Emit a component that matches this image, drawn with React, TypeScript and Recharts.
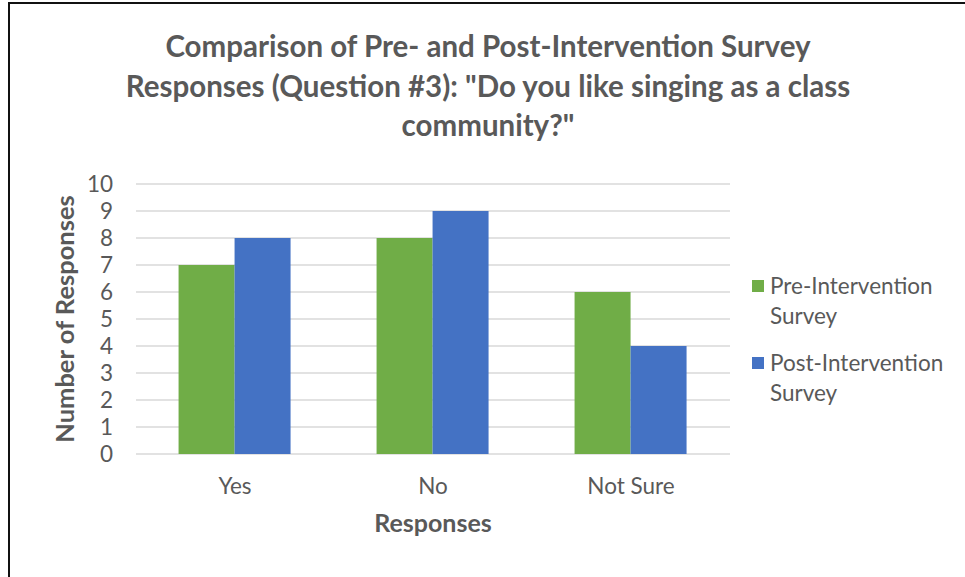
import { BarChart, Bar, XAxis, YAxis, CartesianGrid, Label } from "recharts"

const responses = ["Yes", "No", "Not Sure"]
const preSurvey = [7, 8, 6]
const postSurvey = [8, 9, 4]
const yTicks = [0, 1, 2, 3, 4, 5, 6, 7, 8, 9, 10]

const data = responses.map((name, i) => ({
  name,
  pre: preSurvey[i],
  post: postSurvey[i],
}))

const FONT = "Lato, 'Noto Sans', sans-serif"
const TEXT = "#595959"
const GREEN = "#70AD47"
const BLUE = "#4472C4"

const legendItems = [
  { color: GREEN, lines: ["Pre-Intervention", "Survey"] },
  { color: BLUE, lines: ["Post-Intervention", "Survey"] },
]

// legend sits to the right of the plot, entries wrap onto two lines
function LegendBox() {
  return (
    <div
      style={{
        position: "absolute",
        left: 752,
        top: 271,
        fontFamily: FONT,
        fontSize: 22.5,
        color: TEXT,
        lineHeight: "30px",
      }}
    >
      {legendItems.map((item, i) => (
        <div key={i} style={{ display: "flex", marginBottom: i === 0 ? 17 : 0 }}>
          <div
            style={{
              width: 12,
              height: 12,
              background: item.color,
              marginTop: 9,
              marginRight: 6,
            }}
          />
          <div>
            {item.lines.map((l) => (
              <div key={l}>{l}</div>
            ))}
          </div>
        </div>
      ))}
    </div>
  )
}

export default function App() {
  return (
    <div style={{ position: "absolute", left: 0, top: 0, width: 965, height: 577, background: "#fff" }}>
      <div
        style={{
          position: "absolute",
          left: 8,
          top: 2,
          width: 957,
          height: 575,
          borderTop: "2px solid #111",
          borderLeft: "2px solid #111",
        }}
      />
      <div
        style={{
          position: "absolute",
          left: 38,
          top: 26,
          width: 900,
          textAlign: "center",
          fontFamily: FONT,
          fontWeight: 700,
          fontSize: 29.5,
          lineHeight: "39.5px",
          color: TEXT,
        }}
      >
        <div>Comparison of Pre- and Post-Intervention Survey</div>
        <div>Responses (Question #3): "Do you like singing as a class</div>
        <div>community?"</div>
      </div>
      <BarChart
        width={965}
        height={577}
        data={data}
        margin={{ top: 184, right: 235, bottom: 43, left: 0 }}
        barCategoryGap="21.5%"
        barGap={0}
      >
        <CartesianGrid vertical={false} stroke="#d9d9d9" strokeWidth={1.5} />
        <XAxis
          dataKey="name"
          axisLine={false}
          tickLine={false}
          tickSize={0}
          tickMargin={24}
          height={80}
          tick={{ fill: TEXT, fontSize: 22.5, fontFamily: FONT }}
        >
          <Label
            value="Responses"
            position="insideBottom"
            offset={2}
            style={{ fill: TEXT, fontSize: 25, fontWeight: 700, fontFamily: FONT }}
          />
        </XAxis>
        <YAxis
          domain={[0, 10]}
          ticks={yTicks}
          interval={0}
          axisLine={false}
          tickLine={false}
          tickSize={0}
          tickMargin={23}
          width={136}
          tick={{ fill: TEXT, fontSize: 22.5, fontFamily: FONT }}
        >
          <Label
            value="Number of Responses"
            position="center"
            angle={-90}
            dx={-3}
            style={{ fill: TEXT, fontSize: 25.5, fontWeight: 700, fontFamily: FONT, textAnchor: "middle" }}
          />
        </YAxis>
        <Bar dataKey="pre" name="Pre-Intervention Survey" fill={GREEN} isAnimationActive={false} />
        <Bar dataKey="post" name="Post-Intervention Survey" fill={BLUE} isAnimationActive={false} />
      </BarChart>
      <LegendBox />
    </div>
  )
}
